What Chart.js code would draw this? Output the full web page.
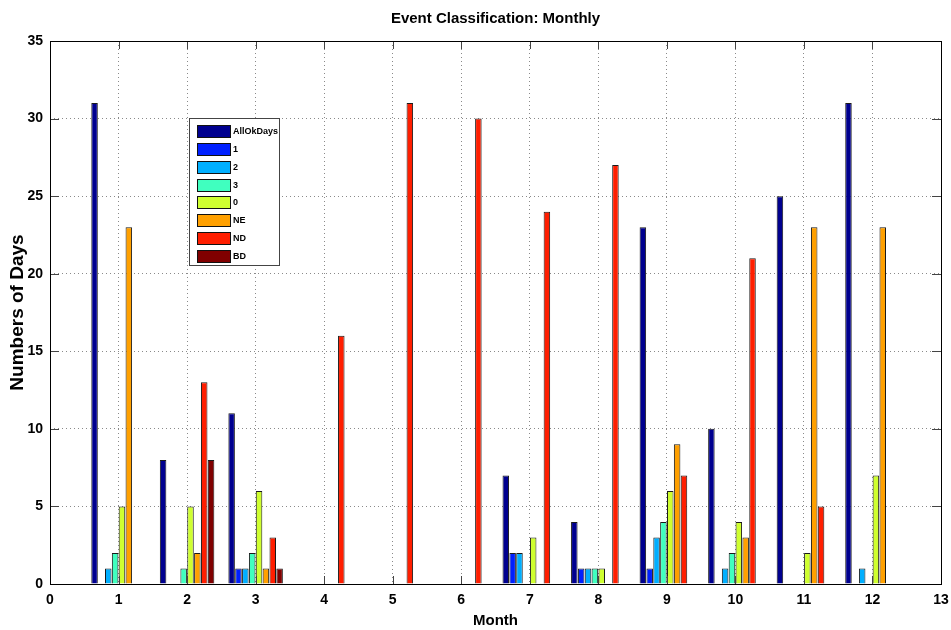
<!DOCTYPE html>
<html>
<head>
<meta charset="utf-8">
<script src="https://cdn.jsdelivr.net/npm/chart.js@4/dist/chart.umd.min.js"></script>
<style>
html,body{margin:0;padding:0;background:#fff;}
#wrap{width:951px;height:630px;position:relative;}
</style>
</head>
<body>
<div id="wrap"><canvas id="c"></canvas></div>
<script>
// ---- data ----
const months = [1,2,3,4,5,6,7,8,9,10,11,12];
const seriesLabels = ['AllOkDays','1','2','3','0','NE','ND','BD'];
const allOkDays = [31,8,11,0,0,0,7,4,23,10,25,31];
const class1    = [0,0,1,0,0,0,2,1,1,0,0,0];
const class2    = [1,0,1,0,0,0,2,1,3,1,0,1];
const class3    = [2,1,2,0,0,0,0,1,4,2,0,0];
const class0    = [5,5,6,0,0,0,3,1,6,4,2,7];
const classNE   = [23,2,1,0,0,0,0,0,9,3,23,23];
const classND   = [0,13,3,16,31,30,24,27,7,21,5,0];
const classBD   = [0,8,1,0,0,0,0,0,0,0,0,0];
const yTicks = [0,5,10,15,20,25,30,35];
const xTicks = [0,1,2,3,4,5,6,7,8,9,10,11,12,13];

const seriesValues = [allOkDays,class1,class2,class3,class0,classNE,classND,classBD];
const seriesColors = ['#00008F','#0020FF','#00AFFF','#40FFBF','#CFFF30','#FFA000','#FF1E00','#800000'];

// ---- font detection ----
function hasFont(name){
  const c=document.createElement('canvas').getContext('2d');
  c.font='bold 40px monospace';
  const a=c.measureText('Event Classification').width;
  c.font='bold 40px "'+name+'", monospace';
  return c.measureText('Event Classification').width!==a;
}
const narrow = hasFont('Liberation Sans Narrow');
const HF = narrow ? '"Liberation Sans Narrow", "Liberation Sans", Arial, sans-serif' : '"Liberation Sans", Arial, sans-serif';
const RF = '"Liberation Sans", Arial, sans-serif';
const sTitle = narrow ? 18 : 15;
const sTick  = narrow ? 17 : 14;
const sXT    = narrow ? 18 : 15;
const sLeg   = narrow ? 11 : 9;

const datasets = seriesLabels.map((lab,i)=>({
  label: lab,
  data: months.map((m,j)=>({x:m, y:seriesValues[i][j]})),
  backgroundColor: seriesColors[i],
  borderColor: '#1a1a1a',
  borderWidth: 1,
  borderSkipped: 'start',
  categoryPercentage: 0.8,
  barPercentage: 0.95
}));

const boxPlugin = {
  id:'boxTicks',
  afterDatasetsDraw(chart){
    const {ctx, chartArea:a, scales:{x,y}} = chart;
    ctx.save();
    ctx.strokeStyle='#444'; ctx.lineWidth=1;
    ctx.beginPath();
    xTicks.forEach(v=>{
      const px=Math.round(x.getPixelForValue(v))+0.5;
      ctx.moveTo(px,a.bottom); ctx.lineTo(px,a.bottom-8);
      ctx.moveTo(px,a.top); ctx.lineTo(px,a.top+8);
    });
    yTicks.forEach(v=>{
      const py=Math.round(y.getPixelForValue(v))+0.5;
      ctx.moveTo(a.left,py); ctx.lineTo(a.left+9,py);
      ctx.moveTo(a.right,py); ctx.lineTo(a.right-9,py);
    });
    ctx.stroke();
    ctx.strokeStyle='#000';
    ctx.strokeRect(Math.round(a.left)+0.5, Math.round(a.top)+0.5, Math.round(a.right-a.left), Math.round(a.bottom-a.top));
    ctx.restore();
  }
};

const legendPlugin = {
  id:'innerLegend',
  afterDraw(chart){
    const ctx=chart.ctx;
    const bx=189.5, by=118.5, bw=90, bh=147;
    ctx.save();
    ctx.fillStyle='#fff'; ctx.fillRect(bx,by,bw,bh);
    ctx.strokeStyle='#444'; ctx.lineWidth=1; ctx.strokeRect(bx,by,bw,bh);
    chart.data.datasets.forEach((ds,i)=>{
      const cy=131+i*17.86;
      ctx.fillStyle=ds.backgroundColor;
      ctx.fillRect(197.5,Math.round(cy-6)+0.5,33,12);
      ctx.strokeStyle='#111';
      ctx.strokeRect(197.5,Math.round(cy-6)+0.5,33,12);
      ctx.fillStyle='#000';
      ctx.font='bold '+sLeg+'px '+HF;
      ctx.textBaseline='middle'; ctx.textAlign='left';
      ctx.fillText(ds.label,233,cy+0.5);
    });
    ctx.restore();
  }
};

new Chart(document.getElementById('c'),{
  type:'bar',
  data:{datasets},
  options:{
    responsive:true,
    maintainAspectRatio:false,
    animation:false,
    layout:{padding:{left:0,right:10,top:0,bottom:0}},
    plugins:{
      legend:{display:false},
      tooltip:{enabled:false},
      title:{display:true, text:'Event Classification: Monthly', fullSize:false, color:'#000',
        font:{family:HF, size:sTitle, weight:'bold'}, padding:{top:10,bottom:41-10-sTitle*1.2}}
    },
    scales:{
      x:{
        type:'linear', min:0, max:13, offset:false,
        grid:{offset:false, drawTicks:false, color:'#8a8a8a', lineWidth:1},
        border:{display:false, dash:[1,3]},
        ticks:{stepSize:1, padding:8, color:'#000', font:{family:HF,size:sTick,weight:'bold'}, maxRotation:0, autoSkip:false},
        title:{display:true, text:'Month', color:'#000', font:{family:HF,size:sXT,weight:'bold'}, padding:{top:0,bottom:0}},
        afterFit(s){ s.height=46; s.paddingRight=0; s.paddingLeft=0; }
      },
      y:{
        min:0, max:35,
        grid:{drawTicks:false, color:'#8a8a8a', lineWidth:1},
        border:{display:false, dash:[1,3]},
        ticks:{stepSize:5, padding:7, color:'#000', font:{family:HF,size:sTick,weight:'bold'}},
        title:{display:true, text:'Numbers of Days', color:'#000', font:{family:RF,size:19,weight:'bold'}, padding:{top:6,bottom:0}},
        afterFit(s){ s.width=50; s.paddingTop=0; s.paddingBottom=0; }
      }
    }
  },
  plugins:[boxPlugin, legendPlugin]
});
</script>
</body>
</html>
